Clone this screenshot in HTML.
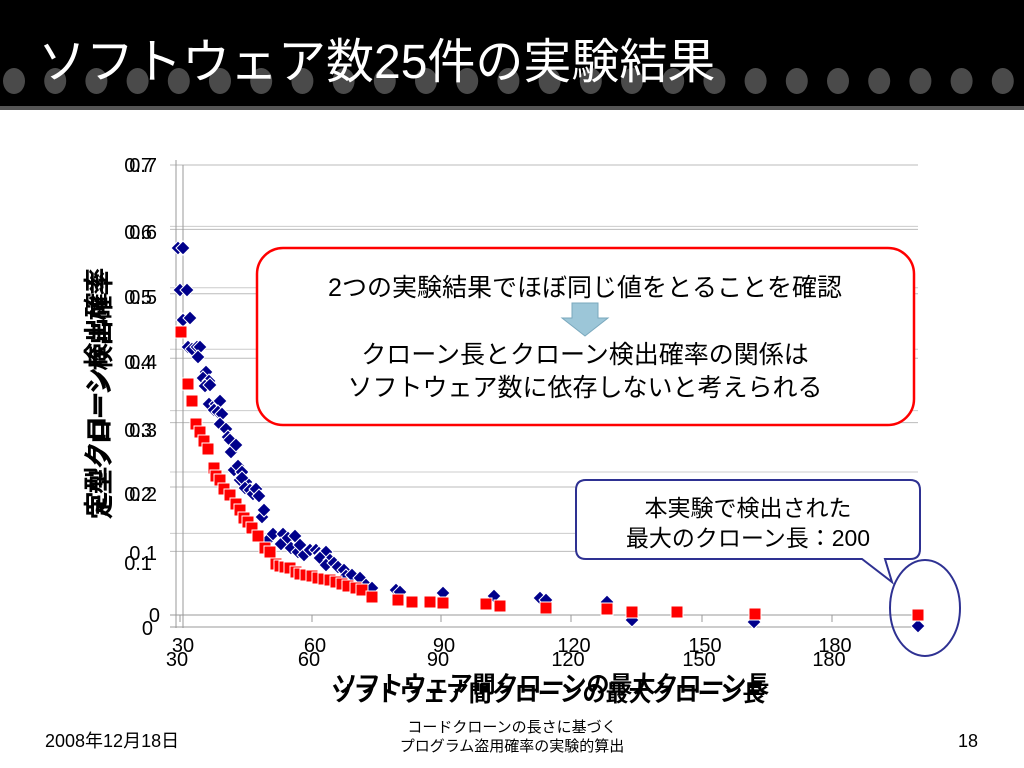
<!DOCTYPE html>
<html><head><meta charset="utf-8"><style>
html,body{margin:0;padding:0;background:#fff;}
body{width:1024px;height:768px;overflow:hidden;position:relative;font-family:"Liberation Sans","Noto Sans CJK JP",sans-serif;}
</style></head><body>
<svg width="1024" height="768" viewBox="0 0 1024 768" xmlns="http://www.w3.org/2000/svg" style="position:absolute;left:0;top:0" font-family="Liberation Sans, Noto Sans CJK JP, sans-serif">
<rect x="0" y="0" width="1024" height="106" fill="#000"/>
<rect x="0" y="106" width="1024" height="4" fill="#555"/>
<g fill="#4a4a4a" id="dots"></g>
<text x="38" y="78" font-size="48" fill="#fff">ソフトウェア数25件の実験結果</text>

<g stroke="#bbb" stroke-width="1" id="grid"></g>
<line x1="176" y1="160" x2="176" y2="628" stroke="#999"/>
<line x1="183" y1="165" x2="183" y2="628" stroke="#999"/>
<line x1="170" y1="615" x2="918" y2="615" stroke="#999"/>
<line x1="170" y1="627" x2="918" y2="627" stroke="#999"/>
<g id="ticks" stroke="#999"></g>
<g font-size="20" fill="#000" id="ylab"></g>
<g font-size="20" fill="#000" text-anchor="middle" id="xlab"></g>
<g id="pts"></g>

<text transform="translate(110,395) rotate(-90)" font-size="25" text-anchor="middle" font-weight="bold">定型クローン検出確率</text>
<text transform="translate(105,392) rotate(-90)" font-size="25" text-anchor="middle" font-weight="bold">定型クローン検出確率</text>
<text x="552" y="692" font-size="23" text-anchor="middle" font-weight="bold">ソフトウェア間クローンの最大クローン長</text>
<text x="548" y="701" font-size="23" text-anchor="middle" font-weight="bold">ソフトウェア間クローンの最大クローン長</text>

<rect x="257" y="248" width="657" height="177" rx="26" fill="#fff" stroke="#f00" stroke-width="2.5"/>
<text x="585" y="296" font-size="25" text-anchor="middle">2つの実験結果でほぼ同じ値をとることを確認</text>
<path d="M572 303 H598 V318 H608 L585 336 L562 318 H572 Z" fill="#9cc6d8" stroke="#7aa8bd"/>
<text x="585" y="363" font-size="25" text-anchor="middle">クローン長とクローン検出確率の関係は</text>
<text x="585" y="396" font-size="25" text-anchor="middle">ソフトウェア数に依存しないと考えられる</text>

<path d="M586 480 H910 Q920 480 920 490 V549 Q920 559 910 559 H885 L892 582 L862 559 H586 Q576 559 576 549 V490 Q576 480 586 480 Z" fill="#fff" stroke="#2e3192" stroke-width="2"/>
<text x="748" y="516" font-size="23" text-anchor="middle">本実験で検出された</text>
<text x="748" y="546" font-size="23" text-anchor="middle">最大のクローン長：200</text>
<ellipse cx="925" cy="608" rx="35" ry="48" fill="none" stroke="#2e3192" stroke-width="2"/>

<text x="45" y="747" font-size="18">2008年12月18日</text>
<text x="512" y="732" font-size="15" text-anchor="middle">コードクローンの長さに基づく</text>
<text x="512" y="751" font-size="15" text-anchor="middle">プログラム盗用確率の実験的算出</text>
<text x="968" y="747" font-size="18" text-anchor="middle">18</text>
</svg>
<script>
const NS="http://www.w3.org/2000/svg";
function el(p,t,a,txt){const e=document.createElementNS(NS,t);for(const k in a)e.setAttribute(k,a[k]);if(txt!==undefined)e.textContent=txt;document.getElementById(p).appendChild(e);}
for(let i=0;i<25;i++)el("dots","ellipse",{cx:14+i*41.2,cy:81,rx:11,ry:13});
for(let i=0;i<7;i++){const y=165+i*64.4;el("grid","line",{x1:170,y1:y,x2:918,y2:y});}
for(let i=1;i<7;i++){const y=165+i*61.4;el("grid","line",{x1:170,y1:y,x2:918,y2:y,stroke:"#ccc"});}
const yl=[["0.7",172,172],["0.6",239,239],["0.5",304,304],["0.4",369,369],["0.3",437,437],["0.2",501,501],["0.1",560,570],["0",622,635]];
yl.forEach(([t,a,b])=>{el("ylab","text",{x:t=="0"?160:157,y:a,"text-anchor":"end"},t);el("ylab","text",{x:t=="0"?153:152,y:b,"text-anchor":"end"},t);});
[[30,180],[60,312],[90,441],[120,571],[150,702],[180,832]].forEach(([v,x])=>{el("xlab","text",{x:x+3,y:652},v);el("xlab","text",{x:x-3,y:666},v);el("ticks","line",{x1:x,y1:615,x2:x,y2:622});});
const B=[[178,248],[183,248],[180,290],[187,290],[183,320],[190,318],[188,347],[192,349],[197,347],[200,347],[198,357],[206,372],[203,378],[209,381],[205,386],[210,385],[209,404],[216,404],[214,410],[220,401],[218,412],[222,414],[220,424],[226,429],[228,437],[230,440],[231,452],[236,445],[234,470],[238,466],[242,472],[240,480],[246,482],[242,478],[245,488],[250,490],[253,494],[256,489],[259,496],[262,517],[264,510],[268,540],[273,534],[283,534],[281,544],[288,538],[291,548],[295,536],[298,552],[300,545],[304,555],[310,550],[316,550],[319,553],[322,555],[326,552],[320,558],[330,560],[326,565],[334,563],[338,567],[344,570],[346,576],[352,575],[360,578],[366,585],[372,588],[396,590],[400,592],[443,593],[494,596],[540,598],[546,600],[607,602],[632,620],[754,622],[918,626]];
const R=[[181,332],[188,384],[192,401],[196,424],[200,432],[204,441],[208,449],[214,468],[216,476],[220,480],[224,489],[230,495],[236,504],[240,510],[244,518],[248,522],[252,528],[258,536],[265,548],[270,552],[276,564],[280,566],[285,567],[290,568],[296,572],[300,574],[306,575],[312,576],[318,578],[324,579],[330,580],[336,582],[342,584],[348,586],[356,588],[362,590],[372,597],[398,600],[412,602],[430,602],[443,603],[486,604],[500,606],[546,608],[607,609],[632,612],[677,612],[755,614],[918,615]];
B.forEach(([x,y])=>el("pts","path",{d:`M${x} ${y-7}L${x+7} ${y}L${x} ${y+7}L${x-7} ${y}Z`,fill:"#00008b",stroke:"#fff","stroke-width":1}));
R.forEach(([x,y])=>el("pts","rect",{x:x-6,y:y-6,width:12,height:12,fill:"#f00",stroke:"#fff","stroke-width":1}));
</script>
</body></html>
